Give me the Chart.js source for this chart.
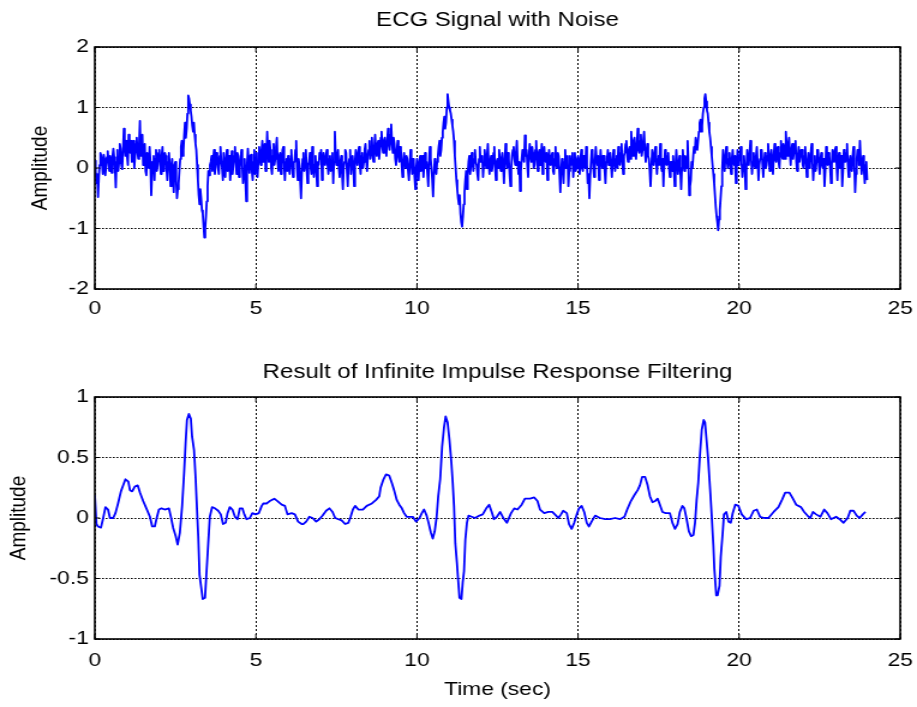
<!DOCTYPE html>
<html>
<head>
<meta charset="utf-8">
<script src="https://cdn.jsdelivr.net/npm/chart.js@4.4.1/dist/chart.umd.min.js"></script>
<style>
  html, body { margin: 0; padding: 0; background: #fff; }
  #wrap { position: relative; width: 917px; height: 707px; overflow: hidden; }
  canvas { position: absolute; left: 0; }
</style>
</head>
<body>
<div id="wrap">
  <canvas id="top" width="764" height="340" style="top:0px;width:917px;height:340px;"></canvas>
  <canvas id="bottom" width="764" height="367" style="top:340px;width:917px;height:367px;"></canvas>
</div>
<script>
// ---------- data ----------
const topTitle = "ECG Signal with Noise";
const bottomTitle = "Result of Infinite Impulse Response Filtering";
const xAxisLabel = "Time (sec)";
const yAxisLabel = "Amplitude";
const xTicks = [0, 5, 10, 15, 20, 25];
const topYTicks = [-2, -1, 0, 1, 2];
const bottomYTicks = [-1, -0.5, 0, 0.5, 1];

const noisyStart = 0;
const noisyStep = 0.025;
const noisyAmplitude = [
  0.12,-0.05,-0.25,-0.1,-0.48,-0.15,0.05,0.25,0.2,0.05,-0.1,0.22,0.15,-0.12,0.02,0.18,0.28,0.1,-0.05,0.2,0.1,-0.08,0.2,0.32,0.18,0.0,-0.32,0.1,0.3,-0.05,0.08,0.4,0.32,0.05,-0.02,0.3,0.65,0.35,0.2,0.45,
  0.2,0.05,0.55,0.35,0.25,0.45,0.1,0.3,0.45,0.0,0.2,0.4,0.5,0.25,0.15,0.4,0.78,0.2,0.3,0.55,0.05,0.2,0.4,-0.05,-0.12,0.25,0.2,0.0,0.35,0.1,-0.45,-0.1,0.1,0.2,-0.2,0.15,0.3,-0.05,0.05,0.25,
  0.3,0.1,-0.1,0.2,0.35,-0.05,0.05,0.25,0.2,0.0,-0.2,0.1,0.25,0.05,-0.3,0.0,0.15,-0.15,-0.4,0.05,0.1,-0.2,-0.5,-0.35,-0.25,-0.05,0.15,0.35,0.45,0.2,0.3,0.55,0.75,0.5,0.65,0.9,1.2,1.15,1.05,0.95,
  0.85,0.7,0.6,0.75,0.55,0.4,0.3,0.05,-0.2,-0.45,-0.6,-0.35,-0.5,-0.7,-0.75,-0.95,-1.15,-1.0,-0.8,-0.55,-0.3,-0.05,-0.12,0.05,0.1,0.2,-0.05,0.15,0.3,-0.1,0.05,0.25,0.2,0.0,-0.1,0.2,0.35,0.1,0.0,-0.2,
  0.25,0.05,-0.15,0.15,0.3,-0.05,0.1,0.2,-0.2,0.0,0.28,-0.1,0.05,0.2,0.35,0.1,-0.1,0.25,0.2,-0.15,0.0,0.15,0.3,0.05,-0.25,-0.05,0.15,-0.2,-0.55,0.05,0.32,0.1,-0.08,0.2,0.22,-0.05,-0.2,0.1,0.3,-0.1,
  0.1,0.25,-0.15,0.1,0.35,0.15,0.05,0.3,0.45,0.1,0.2,0.4,-0.05,0.2,0.6,0.25,0.1,0.45,0.3,0.0,-0.1,0.2,0.4,0.05,0.15,0.35,0.5,0.1,-0.05,0.2,0.25,-0.1,0.05,0.3,0.35,0.05,-0.2,0.1,0.15,-0.05,
  0.2,0.0,-0.1,0.15,0.3,0.05,-0.15,0.1,0.1,0.3,0.45,0.0,-0.2,0.15,0.05,-0.2,-0.5,-0.1,0.15,0.25,-0.05,0.1,0.3,0.0,-0.25,0.05,0.1,0.25,0.0,-0.1,0.35,0.1,-0.15,0.05,0.2,-0.05,-0.3,0.1,0.05,0.25,
  0.15,0.3,-0.2,0.0,0.25,0.1,0.05,0.2,0.3,0.05,-0.1,0.15,0.2,-0.05,0.1,0.25,-0.25,0.1,0.6,0.2,0.05,0.2,0.3,0.0,-0.15,0.1,0.2,-0.1,-0.35,0.0,0.1,0.3,0.25,-0.05,-0.3,0.05,0.15,0.3,-0.1,0.1,
  0.2,0.0,-0.3,0.1,0.3,0.15,0.05,0.25,0.35,0.05,-0.1,0.2,0.25,0.0,0.1,0.3,0.4,0.15,-0.05,0.2,0.3,0.45,0.15,0.35,0.5,0.2,0.1,0.35,0.55,0.3,0.2,0.4,0.45,0.15,0.3,0.5,0.6,0.35,0.25,0.45,
  0.5,0.35,0.2,0.45,0.65,0.4,0.3,0.55,0.72,0.4,0.25,0.5,0.4,0.15,0.05,0.3,0.45,0.2,0.1,0.35,0.3,0.05,-0.15,0.1,0.25,0.1,0.0,0.2,0.15,-0.05,-0.2,0.05,0.3,0.1,-0.1,0.15,0.1,-0.15,-0.35,0.0,
  0.15,0.0,-0.2,0.1,0.2,-0.05,0.05,0.2,-0.15,0.05,0.25,0.0,0.1,-0.1,-0.3,0.1,0.35,0.15,0.0,-0.2,-0.47,-0.1,0.15,0.0,-0.1,0.1,0.2,0.35,0.45,0.2,0.3,0.5,0.6,0.75,0.85,0.65,0.75,1.0,1.22,1.1,
  1.0,0.95,0.9,0.8,0.7,0.6,0.45,0.2,0.0,-0.2,-0.35,-0.5,-0.6,-0.45,-0.75,-0.9,-0.97,-0.8,-0.6,-0.4,-0.2,-0.05,-0.35,-0.1,0.1,0.2,-0.1,0.05,0.25,0.1,-0.05,0.15,0.3,0.1,0.05,-0.1,-0.2,0.15,0.35,0.1,
  0.1,0.2,-0.15,0.05,0.3,0.15,0.0,0.2,0.4,0.1,-0.1,0.1,0.2,-0.05,0.05,0.25,0.35,0.0,-0.2,0.1,0.15,0.0,0.3,0.1,-0.05,0.15,0.25,0.05,-0.25,0.1,0.4,0.15,0.0,0.25,0.15,-0.1,-0.3,0.0,0.2,0.3,
  0.35,0.15,0.05,0.25,0.45,0.1,-0.1,0.1,-0.38,-0.05,0.15,0.3,0.3,0.1,0.54,0.2,0.3,0.05,-0.15,0.2,0.4,0.2,0.1,0.35,0.25,0.0,0.05,0.3,0.45,0.15,-0.05,0.25,0.3,0.05,0.2,0.4,-0.1,0.1,0.35,0.15,
  0.1,0.25,-0.2,0.0,0.3,0.1,0.05,0.2,0.25,-0.05,-0.1,0.15,0.35,0.05,0.0,0.25,0.2,-0.1,-0.4,-0.05,0.15,0.05,-0.25,0.1,0.3,0.0,0.05,0.2,-0.3,-0.05,0.2,0.05,0.1,0.25,-0.15,0.05,0.25,-0.05,0.0,0.15,
  0.2,0.05,-0.1,0.15,0.3,0.0,-0.05,0.2,0.15,0.0,0.35,0.05,-0.25,-0.1,-0.5,-0.15,0.1,0.3,0.25,0.0,-0.15,0.1,0.35,0.15,0.05,0.2,-0.2,0.05,0.3,0.1,0.0,0.2,0.2,-0.05,-0.25,0.1,0.15,0.3,0.05,0.2,
  0.25,0.05,-0.15,0.1,0.3,0.1,-0.05,0.15,0.2,0.0,0.35,0.15,0.05,0.25,0.4,0.1,-0.1,0.2,0.25,0.4,0.45,0.2,0.1,0.3,0.35,0.15,0.6,0.3,0.2,0.45,0.5,0.25,0.15,0.4,0.65,0.3,0.25,0.45,0.55,0.2,
  0.3,0.45,0.6,0.3,0.1,0.25,0.4,0.2,0.15,-0.05,-0.3,0.0,0.3,0.15,0.05,0.25,0.35,0.1,-0.1,0.15,0.2,0.05,0.4,0.1,-0.05,0.15,-0.3,0.05,0.3,0.1,0.05,0.2,0.25,0.0,-0.15,0.1,0.1,-0.05,0.2,0.0,
  -0.3,0.05,0.3,0.1,-0.1,0.05,0.2,-0.05,-0.35,0.0,0.3,0.1,-0.05,0.2,0.15,0.0,0.45,0.1,-0.45,-0.3,-0.2,0.1,0.0,0.2,0.35,0.25,0.5,0.4,0.3,0.45,0.6,0.75,0.8,0.6,0.7,0.9,1.0,1.15,1.22,1.1,
  0.95,0.9,0.75,0.6,0.5,0.35,0.2,0.05,-0.1,-0.25,-0.45,-0.65,-0.8,-0.9,-1.03,-0.85,-0.7,-0.5,-0.3,0.0,0.3,0.1,-0.05,0.2,0.35,0.1,0.0,0.15,0.25,0.05,-0.1,0.15,0.3,0.1,0.05,0.2,-0.25,0.0,0.3,0.05,
  0.1,0.2,0.35,0.1,-0.15,0.05,0.2,0.0,-0.35,-0.05,0.3,0.1,0.05,0.25,0.45,0.15,-0.1,0.1,0.25,0.05,0.0,0.2,0.35,0.1,-0.2,0.05,0.15,0.3,0.3,0.05,-0.15,0.1,0.25,0.0,0.05,0.2,0.4,0.15,-0.05,0.2,
  0.3,0.1,-0.1,0.2,0.4,0.15,0.1,0.3,0.35,0.1,0.0,0.25,0.45,0.2,0.15,0.4,0.3,0.15,0.6,0.35,0.2,0.4,0.5,0.25,0.05,0.3,0.4,0.15,0.25,0.4,0.45,0.1,-0.05,0.2,0.35,0.1,0.1,0.3,0.3,0.05,
  0.0,0.2,0.35,0.1,-0.15,0.05,0.25,0.0,0.05,0.25,0.4,0.1,-0.2,0.05,0.2,-0.05,0.1,0.3,0.3,0.05,-0.1,0.15,0.25,0.05,0.0,0.15,-0.3,-0.05,0.35,0.1,0.05,0.25,0.2,0.0,-0.25,0.05,0.3,0.15,0.1,0.3,
  0.35,0.05,-0.2,0.1,0.25,0.0,0.05,0.2,-0.3,-0.05,0.3,0.1,0.1,0.25,0.4,0.05,-0.15,0.1,0.2,0.0,-0.05,0.2,0.35,0.05,-0.4,-0.1,0.15,0.3,0.3,0.05,0.45,0.15,-0.1,0.1,0.2,-0.05,-0.25,0.05,0.1,-0.2
];

// IIR-filtered ECG (time in s, amplitude)
const filteredTime = [
  0.00,0.05,0.10,0.19,0.26,0.33,0.41,0.47,0.57,0.64,0.72,0.81,0.88,0.95,1.04,1.09,1.16,1.24,1.33,1.40,
  1.50,1.60,1.71,1.78,1.86,1.92,1.99,2.07,2.17,2.30,2.36,2.43,2.51,2.57,2.64,2.71,2.77,2.82,2.86,2.92,
  2.98,3.02,3.08,3.13,3.17,3.21,3.25,3.31,3.35,3.42,3.46,3.52,3.57,3.64,3.73,3.83,3.91,3.98,4.06,4.12,
  4.19,4.27,4.35,4.43,4.50,4.58,4.64,4.71,4.81,4.89,4.99,5.09,5.18,5.23,5.33,5.43,5.57,5.67,5.80,5.90,
  5.98,6.11,6.21,6.31,6.42,6.47,6.56,6.66,6.76,6.87,6.97,7.07,7.18,7.28,7.38,7.46,7.56,7.66,7.77,7.87,
  7.94,8.01,8.08,8.18,8.32,8.44,8.60,8.73,8.83,8.87,8.96,9.04,9.14,9.22,9.29,9.37,9.45,9.53,9.60,9.68,
  9.77,9.87,9.97,10.08,10.15,10.22,10.30,10.36,10.43,10.49,10.55,10.61,10.66,10.72,10.78,10.84,10.89,10.95,11.01,11.07,
  11.11,11.15,11.19,11.24,11.28,11.32,11.38,11.42,11.46,11.50,11.55,11.60,11.70,11.80,11.94,12.04,12.15,12.24,12.32,12.39,
  12.48,12.58,12.68,12.79,12.92,13.02,13.12,13.25,13.35,13.51,13.64,13.74,13.82,13.95,14.08,14.20,14.28,14.39,14.47,14.54,
  14.65,14.72,14.80,14.88,14.96,15.03,15.11,15.19,15.27,15.34,15.42,15.53,15.68,15.84,15.99,16.15,16.30,16.44,16.54,16.64,
  16.75,16.85,16.92,16.99,17.08,17.16,17.23,17.31,17.39,17.47,17.54,17.62,17.72,17.85,17.93,18.01,18.09,18.16,18.24,18.30,
  18.37,18.44,18.51,18.58,18.63,18.68,18.73,18.78,18.84,18.90,18.94,18.99,19.04,19.10,19.15,19.20,19.23,19.29,19.33,19.39,
  19.43,19.49,19.53,19.60,19.67,19.74,19.80,19.88,19.98,20.08,20.22,20.34,20.45,20.55,20.65,20.78,20.91,21.07,21.22,21.33,
  21.43,21.56,21.67,21.77,21.92,22.02,22.12,22.21,22.29,22.39,22.52,22.64,22.74,22.85,23.01,23.12,23.24,23.37,23.45,23.55,
  23.65,23.74,23.84,23.92
];
const filteredAmplitude = [
  0.19,-0.05,-0.07,-0.08,0.0,0.09,0.07,0.0,0.0,0.04,0.12,0.22,0.27,0.32,0.30,0.23,0.22,0.26,0.27,0.21,
  0.14,0.08,0.01,-0.07,-0.07,0.0,0.07,0.08,0.07,0.08,0.01,-0.08,-0.15,-0.22,-0.12,0.10,0.37,0.63,0.81,0.86,
  0.82,0.67,0.56,0.32,0.08,-0.15,-0.47,-0.59,-0.67,-0.66,-0.48,-0.21,0.01,0.09,0.08,0.06,0.03,-0.05,-0.04,0.04,
  0.09,0.07,0.01,-0.01,0.08,0.08,0.03,-0.01,0.0,0.04,0.03,0.04,0.10,0.12,0.12,0.14,0.16,0.14,0.11,0.10,
  0.03,0.04,0.03,-0.03,-0.05,-0.05,-0.03,0.01,0.0,-0.03,-0.01,0.02,0.06,0.08,0.05,0.0,-0.01,-0.02,-0.05,-0.04,
  0.01,0.07,0.10,0.07,0.07,0.10,0.12,0.15,0.18,0.25,0.32,0.36,0.35,0.29,0.23,0.15,0.11,0.08,0.04,0.01,
  0.01,0.01,-0.03,0.0,0.04,0.07,0.02,-0.04,-0.12,-0.17,-0.11,0.01,0.18,0.32,0.59,0.75,0.84,0.79,0.64,0.45,
  0.29,0.10,-0.21,-0.37,-0.52,-0.66,-0.67,-0.53,-0.44,-0.18,-0.04,0.02,0.01,0.0,0.02,0.03,0.08,0.11,0.05,-0.01,
  0.01,0.05,0.0,-0.04,0.04,0.08,0.07,0.11,0.16,0.16,0.17,0.14,0.07,0.04,0.05,0.05,0.03,0.0,0.03,0.06,
  0.04,-0.05,-0.09,-0.04,0.03,0.08,0.10,0.05,-0.04,-0.07,-0.03,0.02,0.0,-0.01,-0.01,0.0,-0.01,0.01,0.08,0.14,
  0.19,0.23,0.27,0.34,0.34,0.27,0.18,0.13,0.14,0.16,0.11,0.05,0.04,0.04,-0.04,-0.09,-0.05,0.05,0.10,0.08,
  -0.01,-0.11,-0.15,-0.14,-0.04,0.15,0.29,0.51,0.73,0.81,0.79,0.64,0.48,0.23,0.01,-0.23,-0.42,-0.64,-0.64,-0.56,
  -0.32,-0.12,0.03,0.05,-0.03,-0.04,0.04,0.11,0.10,0.03,-0.01,0.0,0.06,0.07,0.01,0.0,0.0,0.05,0.09,0.15,
  0.21,0.21,0.16,0.11,0.09,0.05,0.02,0.0,0.05,0.03,0.01,0.07,0.04,-0.01,0.01,-0.01,-0.04,0.0,0.06,0.06,
  0.02,0.0,0.03,0.05
];

// ---------- rendering ----------
const STRETCH = 917 / 764; // canvases are drawn at 764 px and shown 917 px wide
Chart.defaults.font.family = "'Liberation Sans', Arial, Helvetica, sans-serif";
Chart.defaults.font.size = 19;
Chart.defaults.color = '#000';

const noisyPoints = noisyAmplitude.map((v, i) => ({ x: noisyStart + i * noisyStep, y: v }));
const filteredPoints = filteredAmplitude.map((v, i) => ({ x: filteredTime[i], y: v }));

// frame, inward ticks and the plot title centred over the plot area
const framePlugin = {
  id: 'frame',
  afterDraw(chart, args, o) {
    const { ctx, chartArea: a, scales } = chart;
    ctx.save();
    ctx.strokeStyle = '#000';
    ctx.lineWidth = 1;
    const tx = 5, ty = 5 / STRETCH;
    scales.x.ticks.forEach(t => {
      const px = scales.x.getPixelForValue(t.value);
      ctx.beginPath();
      ctx.moveTo(px, a.top); ctx.lineTo(px, a.top + tx);
      ctx.moveTo(px, a.bottom); ctx.lineTo(px, a.bottom - tx);
      ctx.stroke();
    });
    scales.y.ticks.forEach(t => {
      const py = scales.y.getPixelForValue(t.value);
      ctx.beginPath();
      ctx.moveTo(a.left, py); ctx.lineTo(a.left + ty, py);
      ctx.moveTo(a.right, py); ctx.lineTo(a.right - ty, py);
      ctx.stroke();
    });
    ctx.lineWidth = 1.6;
    ctx.strokeRect(a.left, a.top, a.right - a.left, a.bottom - a.top);
    ctx.fillStyle = '#000';
    ctx.font = "20px 'Liberation Sans', Arial, sans-serif";
    ctx.textAlign = 'center';
    ctx.textBaseline = 'middle';
    ctx.fillText(o.text, (a.left + a.right) / 2, o.y);
    ctx.restore();
  }
};

function makeChart(id, points, yTicks, opts) {
  const yMin = yTicks[0], yMax = yTicks[yTicks.length - 1];
  return new Chart(document.getElementById(id), {
    type: 'line',
    data: {
      datasets: [{
        data: points,
        borderColor: '#0000ff',
        borderWidth: opts.lineWidth,
        pointRadius: 0,
        tension: 0,
        fill: false,
        borderJoinStyle: 'round'
      }]
    },
    options: {
      responsive: false,
      animation: false,
      events: [],
      layout: { padding: { left: 0, right: 14, top: opts.plotTop, bottom: 0 } },
      plugins: {
        legend: { display: false },
        tooltip: { enabled: false },
        title: { display: false },
        frame: { text: opts.title, y: opts.titleY }
      },
      scales: {
        x: {
          type: 'linear',
          min: xTicks[0],
          max: xTicks[xTicks.length - 1],
          afterBuildTicks: s => { s.ticks = xTicks.map(v => ({ value: v })); },
          ticks: { padding: opts.xTickPad, maxRotation: 0, color: '#000', font: { size: 19 } },
          grid: { color: '#000', lineWidth: 1, drawTicks: false },
          border: { display: false, dash: [2, 2] },
          title: opts.xTitle ? { display: true, text: xAxisLabel, color: '#000', font: { size: 19 }, padding: { top: 0, bottom: opts.xTitlePad } } : { display: false },
          afterFit: s => { s.height = opts.xHeight; s.paddingLeft = 0; s.paddingRight = 0; }
        },
        y: {
          type: 'linear',
          min: yMin,
          max: yMax,
          afterBuildTicks: s => { s.ticks = yTicks.map(v => ({ value: v })); },
          ticks: { padding: 5, color: '#000', font: { size: 19 }, callback: v => String(v) },
          grid: { color: '#000', lineWidth: 1, drawTicks: false },
          border: { display: false, dash: [1.6, 1.4] },
          title: { display: true, text: yAxisLabel, color: '#000', font: { size: 19 }, padding: { top: opts.yTitlePad, bottom: 0 } },
          afterFit: s => { s.width = 79; s.paddingTop = 0; s.paddingBottom = 0; }
        }
      }
    },
    plugins: [framePlugin]
  });
}

makeChart('top', noisyPoints, topYTicks, {
  title: topTitle,
  titleY: 20,
  plotTop: 47,
  lineWidth: 1.8,
  xTickPad: 8,
  xTitle: false,
  xHeight: 51,
  yTitlePad: 21.9
});

makeChart('bottom', filteredPoints, bottomYTicks, {
  title: bottomTitle,
  titleY: 32,
  plotTop: 57,
  lineWidth: 1.8,
  xTickPad: 10,
  xTitle: true,
  xTitlePad: 5.6,
  xHeight: 68,
  yTitlePad: 4.4
});
</script>
</body>
</html>
